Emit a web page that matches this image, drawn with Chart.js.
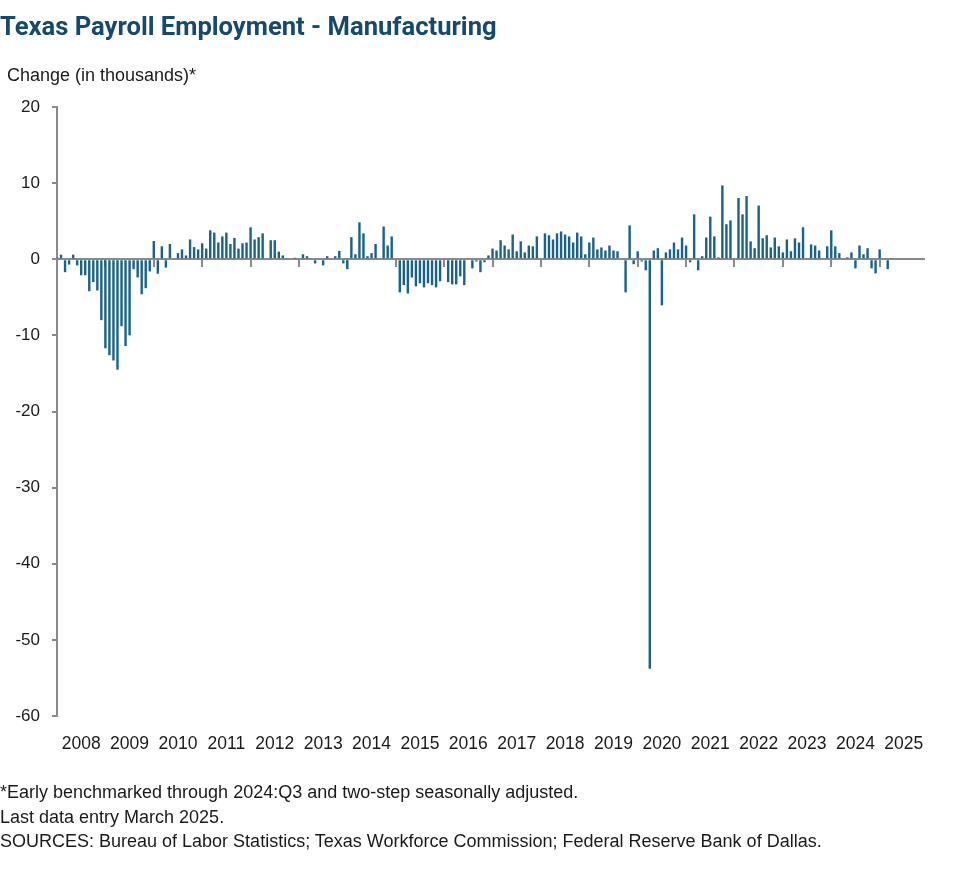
<!DOCTYPE html>
<html>
<head>
<meta charset="utf-8">
<script src="https://cdn.jsdelivr.net/npm/chart.js@4.4.1/dist/chart.umd.min.js"></script>
<style>
  html, body { margin: 0; padding: 0; background: #ffffff; }
  #wrap { position: relative; width: 979px; height: 878px; overflow: hidden; }
  #c { position: absolute; left: 0; top: 0; }
  .txt { position: absolute; left: 0; white-space: nowrap; font-family: "Liberation Sans", Arial, sans-serif; color: #1a1a1a; }
  #title { left: 0; top: 11px; font-family: Roboto, "Liberation Sans", sans-serif; font-weight: 700; font-size: 25.6px; line-height: 30px; color: #164a68; }
  #ylab { left: 7px; top: 65px; font-size: 18px; line-height: 20px; }
  #foot { left: 0; top: 780px; font-size: 18px; line-height: 24.5px; }
</style>
</head>
<body>
<div id="wrap">
  <canvas id="c" width="979" height="878"></canvas>
  <div class="txt" id="title">Texas Payroll Employment - Manufacturing</div>
  <div class="txt" id="ylab">Change (in thousands)*</div>
  <div class="txt" id="foot">*Early benchmarked through 2024:Q3 and two-step seasonally adjusted.<br>Last data entry March 2025.<br>SOURCES: Bureau of Labor Statistics; Texas Workforce Commission; Federal Reserve Bank of Dallas.</div>
</div>
<script>
// Year tick labels (one per year, axis spans Jan 2008 - Dec 2025)
const yearLabels = ['2008','2009','2010','2011','2012','2013','2014','2015','2016','2017','2018','2019','2020','2021','2022','2023','2024','2025'];

// Monthly change in Texas manufacturing payroll employment (thousands), Jan..Dec
const y2008 = [0.3, 0.6, -1.7, -0.7, 0.6, -0.8, -2.1, -2.1, -4.2, -3.0, -4.1, -8.0];
const y2009 = [-11.7, -12.6, -13.3, -14.5, -8.8, -11.4, -10.0, -1.3, -2.4, -4.6, -3.8, -1.6];
const y2010 = [2.4, -1.9, 1.7, -1.1, 2.0, 0.0, 0.8, 1.3, 0.5, 2.6, 1.6, 1.3];
const y2011 = [2.1, 1.4, 3.8, 3.5, 2.2, 3.0, 3.5, 2.0, 2.8, 1.4, 2.1, 2.2];
const y2012 = [4.2, 2.6, 2.9, 3.4, 0.0, 2.5, 2.5, 1.0, 0.5, 0.0, 0.0, 0.2];
const y2013 = [0.0, 0.65, 0.4, 0.0, -0.55, 0.0, -0.8, 0.4, 0.0, 0.4, 1.1, -0.55];
const y2014 = [-1.3, 2.9, 0.65, 4.85, 3.4, 0.4, 0.8, 2.0, 0.0, 4.3, 1.8, 3.0];
const y2015 = [0.0, -4.35, -3.4, -4.5, -2.4, -3.55, -3.15, -3.7, -3.15, -3.4, -3.7, -2.9];
const y2016 = [0.0, -3.0, -3.3, -3.3, -2.25, -3.4, 0.0, -1.2, -0.3, -1.7, -0.4, 0.5];
const y2017 = [1.4, 1.15, 2.5, 1.8, 1.3, 3.25, 1.05, 2.35, 0.9, 1.8, 1.7, 3.0];
const y2018 = [0.0, 3.4, 3.15, 2.6, 3.4, 3.65, 3.25, 3.0, 2.2, 3.5, 3.0, 0.65];
const y2019 = [2.2, 2.85, 1.3, 1.55, 1.15, 1.8, 1.15, 1.05, 0.0, -4.35, 4.45, -0.65];
const y2020 = [1.05, -0.3, -1.45, -53.8, 1.15, 1.45, -6.05, 0.9, 1.3, 2.2, 1.3, 2.85];
const y2021 = [1.8, -0.4, 5.9, -1.45, 0.4, 2.85, 5.6, 3.0, 0.25, 9.7, 4.6, 5.1];
const y2022 = [0.0, 8.05, 5.9, 8.3, 2.35, 1.45, 7.05, 2.75, 3.15, 1.55, 2.85, 1.7];
const y2023 = [0.9, 2.6, 1.05, 2.75, 2.2, 4.2, 0.0, 1.95, 1.8, 1.15, 0.0, 1.7];
const y2024 = [3.8, 1.7, 0.8, 0.0, 0.25, 0.9, -1.2, 1.8, 0.65, 1.45, -1.2, -1.85];
const y2025 = [1.3, 0.0, -1.3];

const changes = [].concat(y2008, y2009, y2010, y2011, y2012, y2013, y2014, y2015,
  y2016, y2017, y2018, y2019, y2020, y2021, y2022, y2023, y2024, y2025);

// one category per month for the full axis span
const monthLabels = [];
yearLabels.forEach(y => { for (let m = 1; m <= 12; m++) monthLabels.push(y + '-' + String(m).padStart(2, '0')); });

const GRAY = '#8a8a8a';
const BAR = '#1b6386';

new Chart(document.getElementById('c'), {
  type: 'bar',
  data: {
    labels: monthLabels,
    datasets: [{
      data: changes,
      backgroundColor: BAR,
      borderWidth: 0,
      barPercentage: 0.6,
      categoryPercentage: 1.0,
      xAxisID: 'x',
      yAxisID: 'y'
    }]
  },
  options: {
    responsive: false,
    animation: false,
    devicePixelRatio: 1,
    layout: { padding: { left: 0, right: 55, top: 107, bottom: 122 } },
    plugins: { legend: { display: false }, tooltip: { enabled: false }, title: { display: false } },
    scales: {
      x: {
        type: 'category',
        position: 'bottom',
        offset: false,
        grid: { display: false, drawTicks: false, offset: false },
        border: { display: false },
        ticks: {
          autoSkip: false,
          maxRotation: 0,
          minRotation: 0,
          padding: 18,
          color: '#1a1a1a',
          font: { family: '"Liberation Sans", Arial, sans-serif', size: 17.5 },
          callback: (v, i) => (i % 12 === 6 ? yearLabels[Math.floor(i / 12)] : '')
        },
        afterFit: (s) => { s.height = 40; }
      },
      x2: {
        type: 'category',
        position: { y: 0 },
        offset: false,
        z: 1,
        grid: {
          display: true,
          drawOnChartArea: false,
          drawTicks: true,
          tickLength: 7,
          offset: false,
          lineWidth: 2,
          color: (ctx) => (ctx.index % 12 === 0 ? GRAY : 'rgba(0,0,0,0)')
        },
        border: { display: true, color: GRAY, width: 2 },
        ticks: { display: false }
      },
      y: {
        type: 'linear',
        position: 'left',
        min: -60,
        max: 20,
        grid: { display: true, drawOnChartArea: false, drawTicks: true, tickLength: 5, color: GRAY, lineWidth: 2 },
        border: { display: true, color: GRAY, width: 2 },
        ticks: {
          stepSize: 10,
          padding: 12,
          color: '#1a1a1a',
          font: { family: '"Liberation Sans", Arial, sans-serif', size: 17 }
        },
        afterFit: (s) => { s.width = 57; }
      }
    }
  }
});
</script>
</body>
</html>
